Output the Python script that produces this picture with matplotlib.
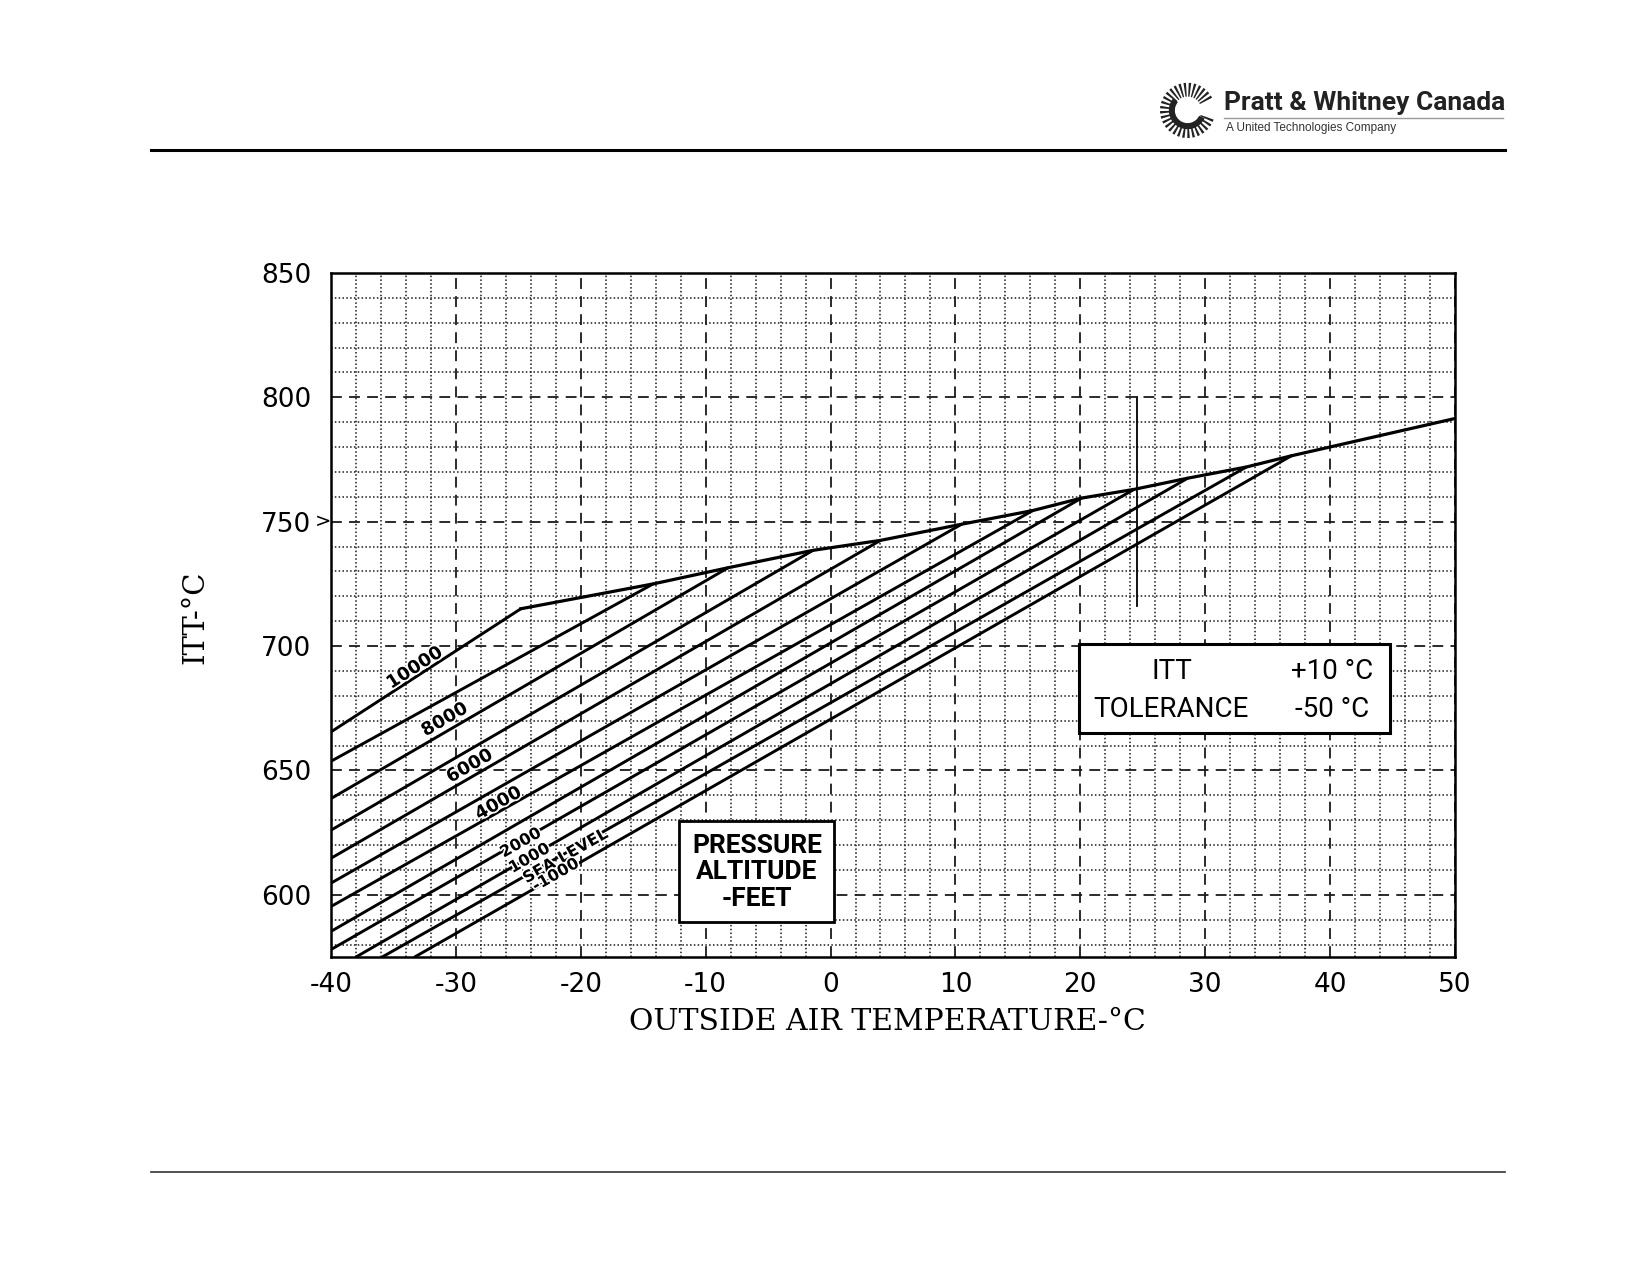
import numpy as np
import matplotlib
matplotlib.use('Agg')
import matplotlib.pyplot as plt
import matplotlib.patheffects as pe
from matplotlib.patches import Rectangle, Wedge
from matplotlib.ticker import MultipleLocator

plt.rcParams['axes.unicode_minus'] = False

#==============================================================================
###  Chart data
#==============================================================================
# one line per pressure altitude: start on the axes edge, end on the limit line
alt_names = ['10000', '9000', '8000', '7000', '6000', '5000',
             '4000', '3000', '2000', '1000', 'SEA LEVEL', '-1000']
start_oat = [-40, -40, -40, -40, -40, -40, -40, -40, -40, -38.0, -35.9, -33.3]
start_itt = [665.5, 653.7, 638.7, 626.0, 614.7, 604.7, 595.3, 585.3, 578.0, 575, 575, 575]
limit_oat = [-24.8, -14.2, -8.2, -1.4, 4.0, 10.5, 16.2, 20.1, 24.3, 28.6, 33.3, 36.9]
limit_itt = [715.0, 725.0, 731.5, 738.5, 742.5, 749.0, 754.5, 759.5, 763.0, 767.5, 772.0, 776.5]

# limit line keeps going after the last altitude line
tail_oat = [50.0]
tail_itt = [791.5]

# reference mark near 25 deg C
mark_oat = [24.5, 24.5]
mark_itt = [716, 800]

# labels written along the altitude lines
label_text = ['10000', '8000', '6000', '4000', '2000', '1000', 'SEA LEVEL', '-1000']
label_line = [0, 2, 4, 6, 8, 9, 10, 11]
label_oat = [-33.3, -30.9, -28.9, -26.6, -24.8, -24.1, -21.2, -22.0]
label_itt = [691.2, 670.4, 651.7, 636.7, 620.9, 614.7, 615.6, 608.0]
label_size = [13, 13, 13, 13, 11.5, 11.5, 11.5, 11.5]

x_ticks = [-40, -30, -20, -10, 0, 10, 20, 30, 40, 50]
x_tick_labels = ['-40', '-30', '-20', '-10', '0', '10', '20', '30', '40', '50']
y_ticks = [600, 650, 700, 750, 800, 850]
y_tick_labels = ['600', '650', '700', '750', '800', '850']

tol_rows = ['ITT', 'TOLERANCE']
tol_vals = ['+10 °C', '-50 °C']

#==============================================================================
###  Figure
#==============================================================================
fig = plt.figure(figsize=(16.5, 12.75), dpi=100)
ax = fig.add_axes([0.2006, 0.2494, 0.6812, 0.5365])

ax.set_xlim(-40, 50)
ax.set_ylim(575, 850)
ax.set_xticks(x_ticks)
ax.set_xticklabels(x_tick_labels)
ax.set_yticks(y_ticks)
ax.set_yticklabels(y_tick_labels)
ax.xaxis.set_minor_locator(MultipleLocator(2))
ax.yaxis.set_minor_locator(MultipleLocator(10))
ax.tick_params(which='both', length=0)
ax.tick_params(axis='x', pad=11, labelsize=19)
ax.tick_params(axis='y', pad=14, labelsize=19)

ax.set_axisbelow(True)
ax.grid(which='major', color='#1a1a1a', lw=1.3, linestyle=(0, (6, 4)))
ax.grid(which='minor', color='#1a1a1a', lw=1.1, linestyle=(0, (1, 1.5)))
for sp in ax.spines.values():
    sp.set_linewidth(1.8)
    sp.set_color('black')

# altitude lines
for i in range(len(alt_names)):
    ax.plot([start_oat[i], limit_oat[i]], [start_itt[i], limit_itt[i]],
            color='black', lw=2.1, solid_capstyle='round', zorder=3)

# limit line through the ends of the altitude lines
env_oat = limit_oat + tail_oat
env_itt = limit_itt + tail_itt
ax.plot(env_oat, env_itt, color='black', lw=2.3, solid_joinstyle='round', zorder=3)

ax.plot(mark_oat, mark_itt, color='black', lw=1.3, zorder=3)

# altitude labels, white halo breaks the lines / grid under the lettering
halo = [pe.withStroke(linewidth=2.5, foreground='white')]
for txt, li, xo, yo, fs in zip(label_text, label_line, label_oat, label_itt, label_size):
    slope = (limit_itt[li] - start_itt[li]) / (limit_oat[li] - start_oat[li])
    rot = np.degrees(np.arctan(slope))
    ax.text(xo, yo, txt, rotation=rot, transform_rotates_text=True,
            rotation_mode='anchor', ha='center', va='center',
            fontsize=fs, fontweight='bold', zorder=5, path_effects=halo)

# pressure altitude box
ax.add_patch(Rectangle((-12.1, 588.9), 12.4, 40.8, facecolor='white',
                       edgecolor='black', lw=2.0, zorder=4))
ax.text(-5.9, 609.0, 'PRESSURE\nALTITUDE\n-FEET', ha='center', va='center',
        fontsize=19, fontweight='bold', linespacing=1.15, zorder=5,
        family=['Roboto', 'DejaVu Sans'])

# tolerance box
ax.add_patch(Rectangle((19.9, 665.0), 24.9, 35.8, facecolor='white',
                       edgecolor='black', lw=2.2, zorder=4))
for row, val, yy in zip(tol_rows, tol_vals, [689.6, 674.7]):
    ax.text(27.3, yy, row, ha='center', va='center', fontsize=20, zorder=5,
            family=['Roboto', 'DejaVu Sans'])
    ax.text(40.2, yy, val, ha='center', va='center', fontsize=20, zorder=5,
            family=['Roboto', 'DejaVu Sans'])

# arrow mark at 750
ax.annotate('>', xy=(0, 750), xycoords=('axes fraction', 'data'),
            xytext=(0.5, 0), textcoords='offset points',
            ha='right', va='center', fontsize=14, annotation_clip=False)

ax.set_xlabel('OUTSIDE AIR TEMPERATURE-°C', fontsize=21.5, family='DejaVu Serif')
ax.xaxis.set_label_coords(0.495, -0.075)
ax.set_ylabel('ITT-°C', fontsize=21, family='DejaVu Serif')
ax.yaxis.set_label_coords(-0.108, 0.497)

#==============================================================================
###  Page header / footer
#==============================================================================
fig.add_artist(plt.Line2D([0.0915, 0.912], [0.8824, 0.8824], color='black', lw=2.2))
fig.add_artist(plt.Line2D([0.0915, 0.912], [0.0804, 0.0804], color='#333333', lw=1.2))

fig.text(0.742, 0.9195, 'Pratt & Whitney Canada', fontsize=19, fontweight='bold',
         color='#222222', ha='left', va='center', family=['Roboto', 'DejaVu Sans'])
fig.add_artist(plt.Line2D([0.742, 0.911], [0.9078, 0.9078], color='#999999', lw=1.0))
fig.text(0.7428, 0.8996, 'A United Technologies Company', fontsize=8.5,
         color='#333333', ha='left', va='center', family=['Liberation Sans', 'DejaVu Sans'])

# sunburst logo
lax = fig.add_axes([0.7005, 0.8885, 0.0385, 0.0498])
lax.set_xlim(-1.15, 1.15)
lax.set_ylim(-1.15, 1.15)
lax.set_aspect('equal')
lax.axis('off')
for a in np.arange(30, 345, 11):
    lax.add_patch(Wedge((0, 0), 1.0, a - 2.6, a + 2.6, width=0.5, color='#222222', lw=0))
lax.add_patch(Wedge((0, 0), 0.68, 140, 335, width=0.22, color='#222222', lw=0))

fig.savefig('out.png', dpi=100)
